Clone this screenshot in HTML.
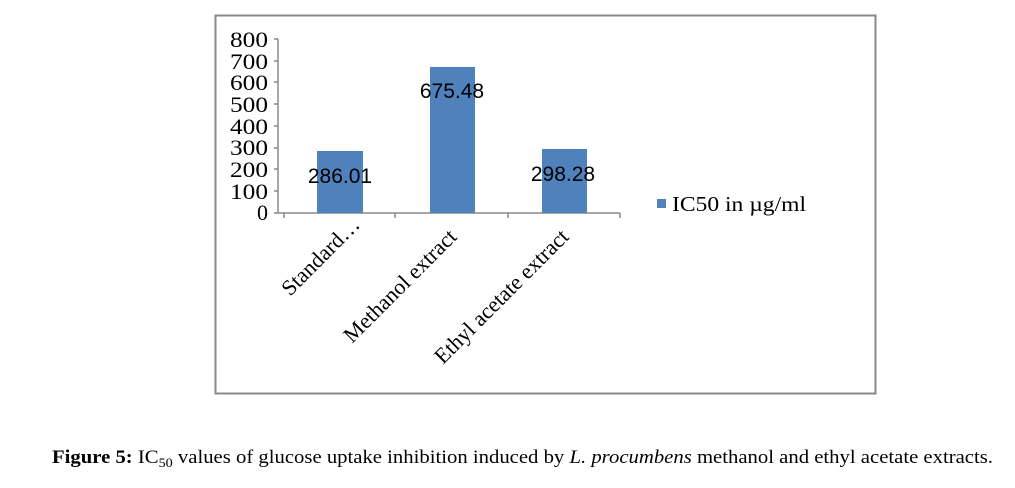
<!DOCTYPE html>
<html><head><meta charset="utf-8"><style>
html,body{margin:0;padding:0;background:#fff;}
</style></head><body>
<svg width="1015" height="483" xmlns="http://www.w3.org/2000/svg">
<rect x="215.5" y="15.5" width="660" height="378" fill="#fff" stroke="#888" stroke-width="2"/>
<g font-family="Liberation Serif, serif" font-size="22" fill="#000" text-anchor="end">
<text x="268" y="47" textLength="38" lengthAdjust="spacingAndGlyphs">800</text>
<text x="268" y="69" textLength="38" lengthAdjust="spacingAndGlyphs">700</text>
<text x="268" y="90" textLength="38" lengthAdjust="spacingAndGlyphs">600</text>
<text x="268" y="112" textLength="38" lengthAdjust="spacingAndGlyphs">500</text>
<text x="268" y="134" textLength="38" lengthAdjust="spacingAndGlyphs">400</text>
<text x="268" y="155" textLength="38" lengthAdjust="spacingAndGlyphs">300</text>
<text x="268" y="177" textLength="38" lengthAdjust="spacingAndGlyphs">200</text>
<text x="268" y="199" textLength="38" lengthAdjust="spacingAndGlyphs">100</text>
<text x="268" y="220">0</text>
</g>
<g stroke="#888" stroke-width="1.5">
<line x1="278" y1="39" x2="278" y2="213"/>
<line x1="274" y1="39" x2="278" y2="39"/><line x1="274" y1="61" x2="278" y2="61"/>
<line x1="274" y1="82" x2="278" y2="82"/><line x1="274" y1="104" x2="278" y2="104"/>
<line x1="274" y1="126" x2="278" y2="126"/><line x1="274" y1="148" x2="278" y2="148"/>
<line x1="274" y1="169" x2="278" y2="169"/><line x1="274" y1="191" x2="278" y2="191"/>
<line x1="274" y1="213" x2="620" y2="213"/>
<line x1="284" y1="213" x2="284" y2="218"/><line x1="395" y1="213" x2="395" y2="218"/>
<line x1="508" y1="213" x2="508" y2="218"/><line x1="620" y1="213" x2="620" y2="218"/>
</g>
<g fill="#4f81bd">
<rect x="317" y="151" width="46" height="62"/>
<rect x="430" y="67" width="45" height="146"/>
<rect x="542" y="149" width="45" height="64"/>
</g>
<g font-family="Liberation Sans, sans-serif" font-size="21" fill="#000" text-anchor="middle">
<text x="340" y="183">286.01</text>
<text x="452" y="98">675.48</text>
<text x="563" y="181">298.28</text>
</g>
<g font-family="Liberation Serif, serif" font-size="22" fill="#000" text-anchor="end">
<text transform="translate(361,226) rotate(-45)">Standard…</text>
<text transform="translate(458,238) rotate(-45)">Methanol extract</text>
<text transform="translate(570,238) rotate(-45)">Ethyl acetate extract</text>
</g>
<rect x="657" y="199" width="9" height="9" fill="#4f81bd"/>
<text x="672" y="211" font-family="Liberation Serif, serif" font-size="21" textLength="134" lengthAdjust="spacingAndGlyphs">IC50 in µg/ml</text>
<text x="52" y="463" font-family="Liberation Serif, serif" font-size="19" textLength="941" lengthAdjust="spacingAndGlyphs"><tspan font-weight="bold">Figure 5:</tspan> IC<tspan font-size="13" dy="4">50</tspan><tspan dy="-4"> values of glucose uptake inhibition induced by </tspan><tspan font-style="italic">L. procumbens</tspan> methanol and ethyl acetate extracts.</text>
</svg>
</body></html>
